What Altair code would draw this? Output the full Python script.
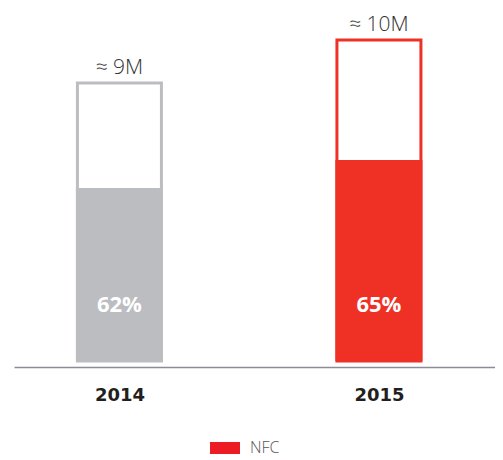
import altair as alt
import pandas as pd

# ---- data ----
years = [2014, 2015]
totals = [8.66, 10.0]          # bar heights (scale units, 10 = "≈ 10M")
nfc_values = [5.39, 6.26]      # filled part of each bar
total_labels = ["≈ 9M", "≈ 10M"]
share_labels = ["62%", "65%"]
legend_series = ["NFC"]

bar_colors = ["#bcbdc1", "#ee3124"]
legend_color = "#ed1c24"
FONT = "Open Sans"

df = pd.DataFrame({
    "year": years,
    "total": totals,
    "nfc": nfc_values,
    "total_label": total_labels,
    "share_label": share_labels,
})
legend_df = pd.DataFrame({"series": legend_series})

x_enc = alt.X(
    "year:Q",
    scale=alt.Scale(domain=[2013.613, 2015.428], nice=False, zero=False),
    axis=alt.Axis(
        values=years, format="d", title=None, grid=False, ticks=False,
        domainColor="#8c8c99", domainWidth=1.5, offset=6,
        labelFont="DejaVu Sans", labelFontSize=18, labelFontWeight="bold",
        labelColor="#231f20", labelPadding=19, labelFlush=False,
    ),
)
y_scale = alt.Scale(domain=[0, 10], nice=False, zero=True)

base = alt.Chart(df)

outline = base.mark_bar(orient="vertical", size=84, fill="white", strokeWidth=3).encode(
    x=x_enc,
    y=alt.Y("total:Q", scale=y_scale, axis=None),
    y2=alt.datum(0),
    stroke=alt.Stroke("year:O", scale=alt.Scale(domain=years, range=bar_colors), legend=None),
)

filled = base.mark_bar(orient="vertical", size=87, strokeWidth=0).encode(
    x=x_enc,
    y=alt.Y("nfc:Q", scale=y_scale, axis=None),
    y2=alt.datum(0),
    fill=alt.Fill("year:O", scale=alt.Scale(domain=years, range=bar_colors), legend=None),
)

total_text = base.mark_text(
    dy=-9, baseline="alphabetic", font=FONT, fontSize=21, fontWeight=300, color="#333333"
).encode(
    x=x_enc,
    y=alt.Y("total:Q", scale=y_scale, axis=None),
    text="total_label:N",
)

share_text = base.mark_text(
    baseline="middle", font=FONT, fontSize=22, fontWeight="bold", color="white"
).encode(
    x=x_enc,
    y=alt.datum(1.74),
    text="share_label:N",
)

legend_layer = alt.Chart(legend_df).mark_bar(orient="vertical", size=0, strokeWidth=0).encode(
    x=alt.datum(2014),
    y=alt.datum(0),
    y2=alt.datum(0),
    color=alt.Color(
        "series:N",
        scale=alt.Scale(domain=legend_series, range=[legend_color]),
        legend=alt.Legend(
            title=None, orient="none", legendX=196, legendY=393,
            symbolType="M-1,-0.4H1V0.4H-1Z", symbolSize=900, symbolStrokeWidth=0,
            labelFont=FONT, labelFontSize=16, labelFontWeight=300,
            labelColor="#555555", labelOffset=10,
        ),
    ),
)

chart = alt.layer(outline, filled, total_text, share_text, legend_layer).properties(
    width=481,
    height=321,
    autosize=alt.AutoSizeParams(type="none"),
    padding={"left": 6, "top": 32, "right": 0, "bottom": 99},
).configure_view(stroke=None)

chart.save("out.html", embed_options={"renderer": "svg", "actions": False})
